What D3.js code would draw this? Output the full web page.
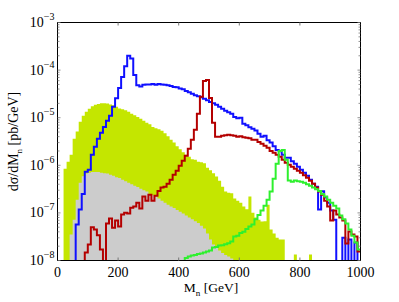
<!DOCTYPE html>
<html>
<head>
<meta charset="utf-8">
<script src="https://cdn.jsdelivr.net/npm/d3@7"></script>
<style>
  body { margin: 0; background: #fff; }
  text { font-family: "Liberation Serif", "Times New Roman", serif; fill: #000; }
</style>
</head>
<body>
<div id="chart"></div>
<script>
// 10 GeV bins from 0 to 1000 GeV
const binWidth = 10;
const xTicks = [0, 200, 400, 600, 800, 1000];
const yDecades = [-8, -7, -6, -5, -4, -3];

// filled histograms (pb/GeV per bin, 0 = below the axis)
const yellowHist = [
  0, 0, 8.5e-7, 1.19e-6, 1.67e-6, 3.6e-6, 5.1e-6, 8.2e-6, 1.1e-5, 1.33e-5,
  1.54e-5, 1.73e-5, 1.86e-5, 1.95e-5, 2.0e-5, 2.0e-5, 1.98e-5, 1.9e-5, 1.82e-5, 1.69e-5,
  1.57e-5, 1.5e-5, 1.43e-5, 1.33e-5, 1.21e-5, 1.12e-5, 1.04e-5, 9.5e-6, 8.6e-6, 7.8e-6,
  7.3e-6, 6.4e-6, 6.0e-6, 5.7e-6, 5.3e-6, 4.7e-6, 4.1e-6, 3.44e-6, 3.0e-6, 2.5e-6,
  2.17e-6, 1.88e-6, 1.67e-6, 1.51e-6, 1.34e-6, 1.31e-6, 1.19e-6, 1.16e-6, 1.11e-6, 8.9e-7,
  7.9e-7, 6.8e-7, 5.8e-7, 4.76e-7, 3.56e-7, 2.8e-7, 2.66e-7, 2.6e-7, 2.0e-7, 1.81e-7,
  1.64e-7, 1.36e-7, 1.2e-7, 2.2e-7, 1.01e-7, 8.0e-8, 7.2e-8, 6.6e-8, 6.7e-8, 1.49e-7,
  4.5e-8, 3.7e-8, 3.0e-8, 2.76e-8, 2.76e-8, 0, 0, 0, 1.34e-8, 0,
  0, 0, 0, 1.34e-8, 0, 0, 0, 0, 0, 0,
  0, 0, 0, 0, 0, 0, 0, 0, 0, 0
];
const greyHist = [
  0, 0, 0, 0, 3.5e-8, 7.2e-8, 1.9e-7, 4.3e-7, 5.9e-7, 6.7e-7,
  7.0e-7, 7.2e-7, 7.2e-7, 7.2e-7, 7.0e-7, 6.8e-7, 6.7e-7, 6.35e-7, 6.0e-7, 5.6e-7,
  5.4e-7, 5.0e-7, 4.6e-7, 4.3e-7, 4.0e-7, 3.7e-7, 3.5e-7, 3.2e-7, 3.0e-7, 2.8e-7,
  2.5e-7, 2.36e-7, 2.2e-7, 2.0e-7, 1.81e-7, 1.64e-7, 1.49e-7, 1.36e-7, 1.26e-7, 1.15e-7,
  1.06e-7, 9.7e-8, 8.8e-8, 8.0e-8, 7.4e-8, 6.7e-8, 6.1e-8, 5.4e-8, 4.7e-8, 3.7e-8,
  2.76e-8, 2.16e-8, 1.87e-8, 1.62e-8, 1.44e-8, 1.3e-8, 1.21e-8, 1.1e-8, 0, 0,
  0, 0, 0, 0, 0, 0, 0, 0, 0, 0,
  0, 0, 0, 0, 0, 0, 0, 0, 0, 0,
  0, 0, 0, 0, 0, 0, 0, 0, 0, 0,
  0, 0, 0, 0, 0, 0, 0, 0, 0, 0
];

// step-line histograms
const blueHist = [
  0, 0, 0, 0, 0, 0, 5.7e-8, 1.18e-7, 2.5e-7, 7.3e-7,
  8.1e-7, 1.67e-6, 2.45e-6, 3.6e-6, 4.8e-6, 6.4e-6, 8.6e-6, 1.1e-5, 1.7e-5, 2.55e-5,
  4.2e-5, 7.2e-5, 1.2e-4, 2.0e-4, 1.76e-4, 7.9e-5, 4.8e-5, 4.55e-5, 4.9e-5, 5.0e-5,
  5.0e-5, 5.1e-5, 4.9e-5, 5.1e-5, 5.0e-5, 4.9e-5, 4.8e-5, 4.66e-5, 4.44e-5, 4.34e-5,
  4.13e-5, 3.94e-5, 3.66e-5, 3.41e-5, 3.17e-5, 2.95e-5, 2.81e-5, 2.68e-5, 2.49e-5, 2.32e-5,
  2.15e-5, 2.0e-5, 1.86e-5, 1.69e-5, 1.54e-5, 1.4e-5, 1.3e-5, 1.21e-5, 1.04e-5, 9.7e-6,
  1.0e-5, 7.45e-6, 6.9e-6, 6.3e-6, 5.85e-6, 5.4e-6, 4.6e-6, 4.0e-6, 4.2e-6, 3.36e-6,
  3.0e-6, 2.5e-6, 2.1e-6, 1.97e-6, 1.67e-6, 1.44e-6, 1.44e-6, 1.22e-6, 1.08e-6, 9.3e-7,
  8.1e-7, 7.0e-7, 6.0e-7, 5.0e-7, 4.1e-7, 3.56e-7, 1.18e-7, 2.86e-7, 2.1e-7, 1.64e-7,
  1.12e-7, 7.2e-8, 0, 0, 3.0e-8, 0, 2.76e-8, 0, 2.4e-8, 0
];
const redHist = [
  0, 0, 0, 0, 0, 0, 0, 0, 0, 1.47e-8,
  2.16e-8, 5.0e-8, 4.5e-8, 3.4e-8, 1.7e-8, 0, 6.0e-8, 7.6e-8, 4.9e-8, 6.9e-8,
  5.2e-8, 9.2e-8, 1.01e-7, 9.7e-8, 1.29e-7, 1.36e-7, 1.64e-7, 1.23e-7, 2.2e-7, 1.81e-7,
  2.4e-7, 1.81e-7, 2.3e-7, 2.9e-7, 3.4e-7, 3.56e-7, 4.1e-7, 5.0e-7, 6.35e-7, 7.7e-7,
  9.8e-7, 1.25e-6, 1.59e-6, 2.23e-6, 3.44e-6, 5.6e-6, 1.21e-5, 2.74e-5, 5.9e-5, 6.2e-5,
  2.6e-5, 7.8e-6, 4.0e-6, 4.0e-6, 4.2e-6, 4.3e-6, 4.4e-6, 4.3e-6, 4.2e-6, 4.0e-6,
  4.1e-6, 3.9e-6, 3.8e-6, 3.7e-6, 3.44e-6, 3.44e-6, 3.1e-6, 2.84e-6, 2.58e-6, 2.34e-6,
  2.0e-6, 1.84e-6, 1.67e-6, 1.51e-6, 1.31e-6, 1.13e-6, 1.03e-6, 9.3e-7, 8.5e-7, 7.7e-7,
  7.0e-7, 6.2e-7, 5.5e-7, 4.76e-7, 4.1e-7, 3.4e-7, 2.8e-7, 2.4e-7, 1.81e-7, 1.36e-7,
  6.9e-8, 1.12e-7, 9.2e-8, 8.0e-8, 6.9e-8, 2.27e-8, 4.05e-8, 3.5e-8, 3.2e-8, 1.54e-8
];
const greenHist = [
  0, 0, 0, 0, 0, 0, 0, 0, 0, 0,
  0, 0, 0, 0, 0, 0, 0, 0, 0, 0,
  0, 0, 0, 0, 0, 0, 0, 0, 0, 0,
  0, 0, 0, 0, 0, 0, 0, 0, 0, 0,
  0, 0, 1.13e-8, 1.21e-8, 1.27e-8, 1.3e-8, 1.37e-8, 1.4e-8, 1.47e-8, 1.54e-8,
  1.62e-8, 1.87e-8, 1.92e-8, 2.06e-8, 2.1e-8, 2.2e-8, 2.3e-8, 2.5e-8, 3.2e-8, 3.3e-8,
  3.8e-8, 4.0e-8, 4.6e-8, 5.2e-8, 5.7e-8, 7.4e-8, 9.0e-8, 1.12e-7, 1.42e-7, 1.9e-7,
  2.8e-7, 5.2e-7, 1.08e-6, 2.0e-6, 2.1e-6, 1.31e-6, 4.8e-7, 4.5e-7, 4.8e-7, 4.6e-7,
  4.5e-7, 4.3e-7, 4.0e-7, 3.7e-7, 3.4e-7, 3.15e-7, 2.9e-7, 2.5e-7, 2.2e-7, 1.9e-7,
  1.64e-7, 1.42e-7, 1.23e-7, 8.8e-8, 7.4e-8, 6.0e-8, 4.5e-8, 3.3e-8, 2.4e-8, 1.7e-8
];

const W = 399, H = 302;
const margin = { top: 22.5, right: 38.5, bottom: 41.5, left: 57.5 };
const width = W - margin.left - margin.right;
const height = H - margin.top - margin.bottom;

const svg = d3.select("#chart").append("svg")
    .attr("width", W)
    .attr("height", H);

const g = svg.append("g")
    .attr("transform", "translate(" + margin.left + "," + margin.top + ")");

const x = d3.scaleLinear().domain([0, 1000]).range([0, width]);
const y = d3.scaleLog().domain([1e-8, 1e-3]).range([height, 0]);
const floor = 1e-9;

g.append("clipPath").attr("id", "plotclip")
    .append("rect").attr("width", width).attr("height", height);

// turn a per-bin list into step points (left edge of each bin + closing edge)
function steps(vals) {
    const pts = vals.map((v, i) => [i * binWidth, v]);
    pts.push([vals.length * binWidth, vals[vals.length - 1]]);
    return pts;
}

const area = d3.area()
    .curve(d3.curveStepAfter)
    .x(d => x(d[0]))
    .y0(height)
    .y1(d => y(Math.max(d[1], floor)));

const line = d3.line()
    .curve(d3.curveStepAfter)
    .x(d => x(d[0]))
    .y(d => y(Math.max(d[1], floor)));

const plot = g.append("g").attr("clip-path", "url(#plotclip)");

plot.append("path").datum(steps(yellowHist))
    .attr("d", area).attr("fill", "#c4e600");
plot.append("path").datum(steps(greyHist))
    .attr("d", area).attr("fill", "#cccccc");

const lines = [
    { vals: blueHist, color: "#1010ff" },
    { vals: redHist, color: "#b40000" },
    { vals: greenHist, color: "#2ef02e" }
];
lines.forEach(s => {
    plot.append("path").datum(steps(s.vals))
        .attr("d", line)
        .attr("fill", "none")
        .attr("stroke", s.color)
        .attr("stroke-width", 2)
        .attr("stroke-linejoin", "miter");
});

// frame
g.append("rect")
    .attr("width", width).attr("height", height)
    .attr("fill", "none").attr("stroke", "#000").attr("stroke-width", 1);

// inward ticks
const tickColor = "#777";
xTicks.slice(1, -1).forEach(t => {
    g.append("line").attr("x1", x(t)).attr("x2", x(t)).attr("y1", height).attr("y2", height - 3)
        .attr("stroke", tickColor);
    g.append("line").attr("x1", x(t)).attr("x2", x(t)).attr("y1", 0).attr("y2", 3)
        .attr("stroke", tickColor);
});
yDecades.forEach(e => {
    for (let k = 1; k <= 9; k++) {
        const v = k * Math.pow(10, e);
        if (v > 1e-3 || (e === -3 && k > 1)) continue;
        const len = k === 1 ? 3 : 2;
        const yy = y(v);
        g.append("line").attr("x1", 0).attr("x2", len).attr("y1", yy).attr("y2", yy)
            .attr("stroke", tickColor).attr("stroke-width", 0.8);
        g.append("line").attr("x1", width).attr("x2", width - len).attr("y1", yy).attr("y2", yy)
            .attr("stroke", tickColor).attr("stroke-width", 0.8);
    }
});

// x tick labels
g.selectAll(".xlab").data(xTicks).enter().append("text")
    .attr("class", "xlab")
    .attr("x", d => x(d))
    .attr("y", height + 16)
    .attr("text-anchor", "middle")
    .style("font-size", "14px")
    .text(d => d);

// y tick labels 10^e
yDecades.forEach(e => {
    const t = g.append("text")
        .attr("x", -3)
        .attr("y", y(Math.pow(10, e)) + 4.5)
        .attr("text-anchor", "end")
        .style("font-size", "14px");
    t.append("tspan").text("10");
    t.append("tspan").attr("dy", -7).style("font-size", "10px").text("\u2212" + (-e));
});

// axis titles
const xt = g.append("text")
    .attr("x", width / 2 + 2)
    .attr("y", height + 31)
    .attr("text-anchor", "middle")
    .style("font-size", "13.5px");
xt.append("tspan").text("M");
xt.append("tspan").attr("dy", 4).style("font-size", "9px").text("n");
xt.append("tspan").attr("dy", -4).text(" [GeV]");

const yt = g.append("text")
    .attr("transform", "translate(" + (-39.5) + "," + (height / 2) + ") rotate(-90)")
    .attr("text-anchor", "middle")
    .style("font-size", "14px");
yt.append("tspan").text("d\u03C3/dM");
yt.append("tspan").attr("dy", 4).style("font-size", "9px").text("n");
yt.append("tspan").attr("dy", -4).text("  [pb/GeV]");
</script>
</body>
</html>
